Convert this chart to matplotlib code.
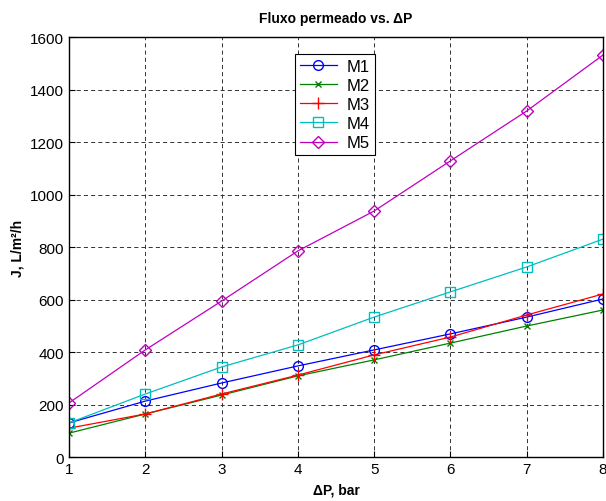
import matplotlib
matplotlib.use("Agg")
import matplotlib.pyplot as plt

plt.rcParams["font.family"] = ["Liberation Sans", "DejaVu Sans"]

# Data
dp = [1, 2, 3, 4, 5, 6, 7, 8]
m1 = [130, 213, 282, 347, 408, 469, 533, 602]
m2 = [91, 164, 236, 309, 370, 434, 499, 560]
m3 = [110, 164, 240, 312, 389, 457, 541, 621]
m4 = [130, 240, 343, 427, 533, 629, 724, 830]
m5 = [206, 408, 594, 785, 937, 1128, 1318, 1531]

labels = ["M1", "M2", "M3", "M4", "M5"]
series = [m1, m2, m3, m4, m5]
colors = ["#0000ff", "#008000", "#ff0000", "#00bfbf", "#bf00bf"]
markers = ["o", "x", "+", "s", "D"]
msizes = [7, 4, 8, 7, 6]

fig = plt.figure(figsize=(6.06, 5.02), dpi=100)
ax = fig.add_axes([0.1139, 0.0876, 0.881, 0.8367])

for y, lab, c, mk, ms in zip(series, labels, colors, markers, msizes):
    ax.plot(dp, y, color=c, marker=mk, markersize=ms, markerfacecolor="none",
            markeredgecolor=c, linewidth=0.9, label=lab)

ax.set_xlim(1, 8)
ax.set_ylim(0, 1600)
ax.set_xticks(dp)
ax.set_yticks(range(0, 1601, 200))
ax.grid(True, color="0.2", linestyle=(0, (4.2, 3.2)), linewidth=0.7)
ax.tick_params(direction="in", labelsize=11, length=4)
for s in ax.spines.values():
    s.set_linewidth(1.0)

ax.set_title("Fluxo permeado vs. ΔP", fontsize=10, fontweight="bold", pad=11)
ax.set_xlabel("ΔP, bar", fontsize=10, fontweight="bold", labelpad=5)
ax.set_ylabel("J, L/m²/h", fontsize=10, fontweight="bold")

leg = ax.legend(loc="upper left", bbox_to_anchor=(0.423, 0.96), borderaxespad=0,
                fontsize=12, fancybox=False, framealpha=1, edgecolor="black",
                handlelength=2.2, borderpad=0.3, labelspacing=0.25,
                handletextpad=0.6)
leg.get_frame().set_linewidth(0.8)

fig.savefig("out.png", dpi=100)
